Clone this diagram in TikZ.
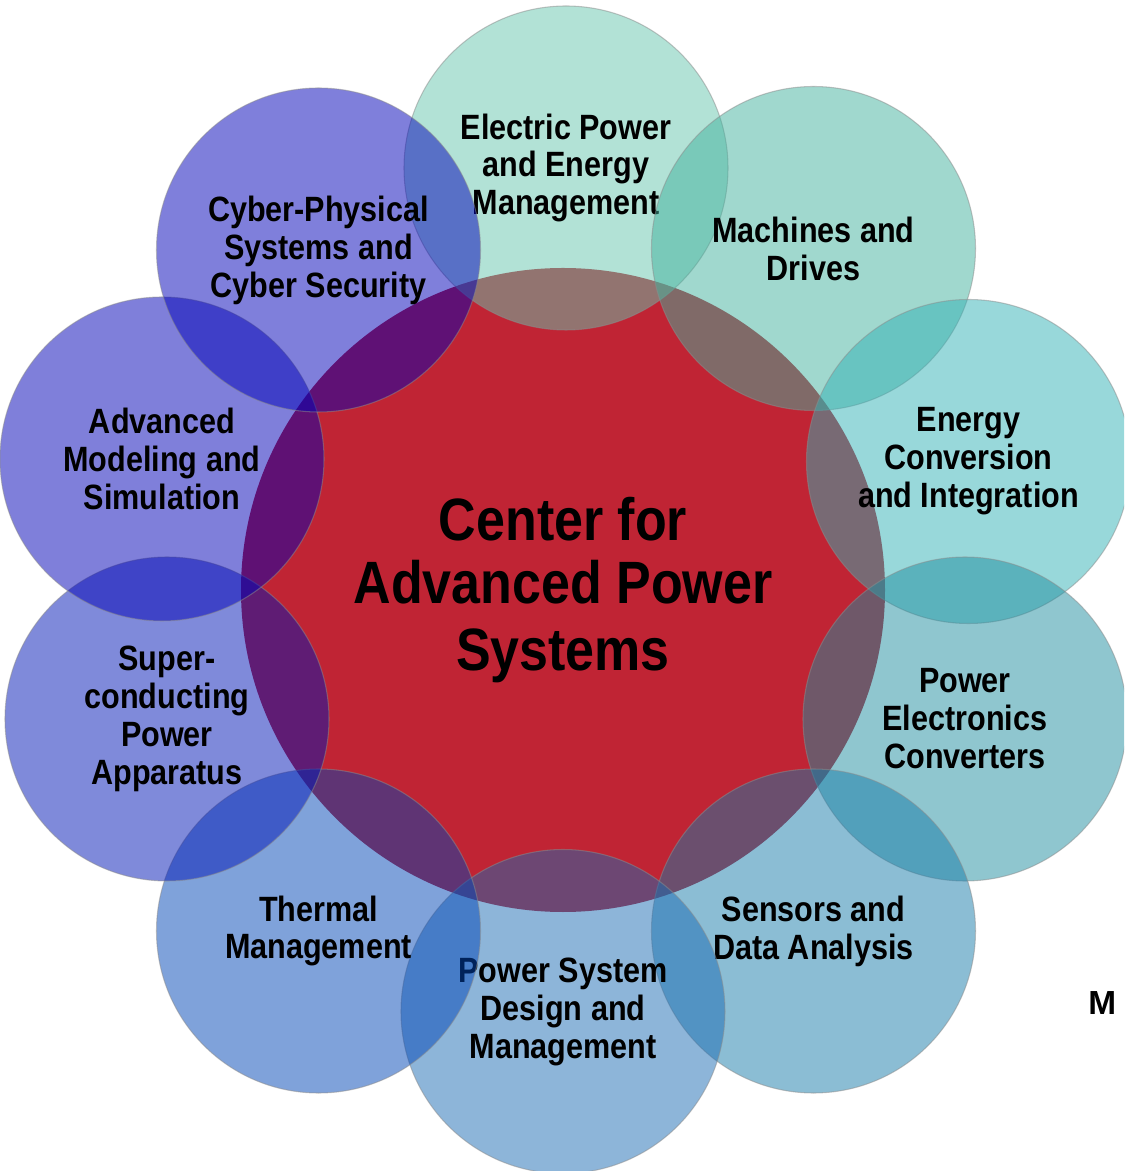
\documentclass[tikz,border=0pt]{standalone}
\usepackage{fontspec}
\setmainfont{Liberation Sans}
\newfontfamily\narrowsans{Liberation Sans}[FakeStretch=0.87]

\definecolor{hubred}{RGB}{192,36,52}
\definecolor{elecc}{RGB}{101,197,173}
\definecolor{machc}{RGB}{65,177,157}
\definecolor{convc}{RGB}{49,177,181}
\definecolor{pelecc}{RGB}{31,141,159}
\definecolor{sensc}{RGB}{23,123,169}
\definecolor{psysc}{RGB}{27,107,179}
\definecolor{thermc}{RGB}{0,69,181}
\definecolor{superc}{RGB}{0,21,181}
\definecolor{modelc}{RGB}{0,0,181}
\definecolor{cyberc}{RGB}{0,0,183}

\begin{document}
\begin{tikzpicture}[hub node/.style={circle,fill=hubred,minimum size=12.88cm,inner sep=0pt,align=center,font=\narrowsans\bfseries\fontsize{34}{38}\selectfont},
  topic node/.style={circle,fill=#1,fill opacity=0.5,text opacity=1,draw=black!45,draw opacity=0.5,line width=0.6pt,minimum size=6.48cm,inner sep=0pt,align=center,font=\narrowsans\bfseries\fontsize{20}{21.6}\selectfont}]

    \useasboundingbox (-11.32,-11.64) rectangle (11.16,11.78);
    \clip (-11.32,-11.64) rectangle (11.16,11.78);

    \node[hub node] at (-0.06, -0.02) (hub) {\raisebox{-0.08cm}{Center for}\\Advanced Power\\Systems};

    % topics, clockwise from the top
    \node[topic node=elecc] at (0, 8.42) (elec) {Electric Power\\and Energy\\Management};
    \node[topic node=machc] at (4.95, 6.81) (mach) {Machines and\\Drives};
    \node[topic node=convc] at (8.05, 2.55) (conv) {Energy\\Conversion\\and Integration};
    \node[topic node=pelecc] at (7.98, -2.60) (pelec) {Power\\Electronics\\Converters};
    \node[topic node=sensc] at (4.95, -6.84) (sens) {Sensors and\\Data Analysis};
    \node[topic node=psysc] at (-0.06, -8.45) (psys) {Power System\\Design and\\Management};
    \node[topic node=thermc] at (-4.95, -6.84) (therm) {Thermal\\Management};
    \node[topic node=superc] at (-7.98, -2.60) (super) {Super-\\conducting\\Power\\Apparatus};
    \node[topic node=modelc] at (-8.08, 2.60) (model) {Advanced\\Modeling and\\Simulation};
    \node[topic node=cyberc] at (-4.95, 6.78) (cyber) {Cyber-Physical\\Systems and\\Cyber Security};

    \node[anchor=base west, inner sep=0pt, font=\bfseries\fontsize{19}{21}\selectfont] at (10.44, -8.5) (mcut) {M};
\end{tikzpicture}
\end{document}
